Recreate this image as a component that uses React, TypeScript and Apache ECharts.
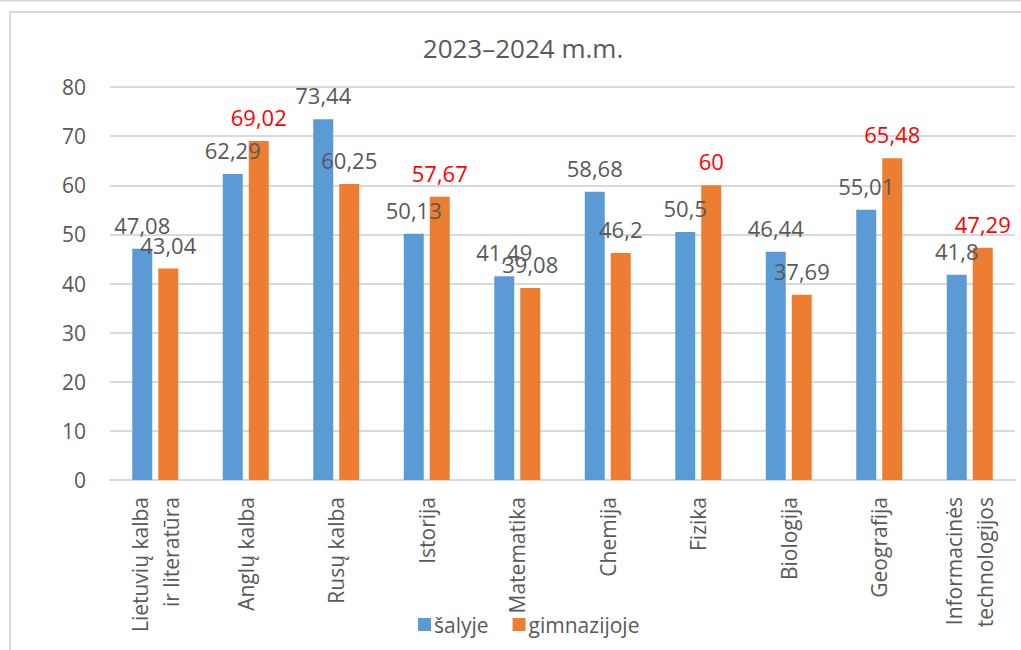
import React, { useEffect, useRef } from "react";
import * as echarts from "echarts";

const titleText = "2023–2024 m.m.";
const categories = [
  "Lietuvių kalba\nir literatūra",
  "Anglų kalba",
  "Rusų kalba",
  "Istorija",
  "Matematika",
  "Chemija",
  "Fizika",
  "Biologija",
  "Geografija",
  "Informacinės\ntechnologijos",
];
const seriesNames = ["šalyje", "gimnazijoje"];
const salyje = [47.08, 62.29, 73.44, 50.13, 41.49, 58.68, 50.5, 46.44, 55.01, 41.8];
const gimnazijoje = [43.04, 69.02, 60.25, 57.67, 39.08, 46.2, 60, 37.69, 65.48, 47.29];
const yMin = 0;
const yMax = 80;
const yInterval = 10;

const FONT = "'Open Sans', 'Noto Sans', sans-serif";
const GRAY = "#595959";

const fmt = (v: number) => String(v).replace(".", ",");

export default function App() {
  const ref = useRef<HTMLDivElement>(null);
  useEffect(() => {
    document.body.style.margin = "0";
    if (!ref.current) return;
    const chart = echarts.init(ref.current, null, { renderer: "svg" });
    const labelBase = {
      show: true,
      position: "top",
      distance: 13,
      fontFamily: FONT,
      fontSize: 22,
      color: GRAY,
      formatter: (p: any) => fmt(p.value),
    };
    chart.setOption({
      animation: false,
      backgroundColor: "#ffffff",
      textStyle: { fontFamily: FONT },
      graphic: [
        {
          type: "line",
          shape: { x1: 0, y1: 0.5, x2: 1021, y2: 0.5 },
          style: { stroke: "#d9d9d9", lineWidth: 2 },
          silent: true,
        },
        {
          type: "rect",
          shape: { x: 10, y: 12, width: 1100, height: 800 },
          style: { fill: "none", stroke: "#d9d9d9", lineWidth: 2 },
          silent: true,
        },
        {
          type: "text",
          x: 523,
          y: 48,
          style: {
            text: titleText,
            fontFamily: FONT,
            fontSize: 26,
            fill: GRAY,
            textAlign: "center",
            textVerticalAlign: "middle",
          },
        },
      ],
      legend: {
        data: seriesNames,
        left: 413,
        top: 609,
        itemWidth: 13,
        itemHeight: 13,
        itemGap: 24,
        icon: "rect",
        textStyle: { fontFamily: FONT, fontSize: 21, color: GRAY, padding: [0, 0, 0, -2] },
      },
      grid: { left: 110, right: 6, top: 87, bottom: 170, containLabel: false },
      xAxis: {
        type: "category",
        data: categories,
        axisLine: { lineStyle: { color: "#d9d9d9", width: 2 } },
        axisTick: { show: false },
        axisLabel: {
          interval: 0,
          rotate: 90,
          margin: 17,
          fontFamily: FONT,
          fontSize: 21,
          lineHeight: 31,
          color: GRAY,
        },
      },
      yAxis: {
        type: "value",
        min: yMin,
        max: yMax,
        interval: yInterval,
        axisLine: { show: false },
        axisTick: { show: false },
        splitLine: { lineStyle: { color: "#d9d9d9", width: 2 } },
        axisLabel: { margin: 24, fontFamily: FONT, fontSize: 21, color: GRAY },
      },
      series: [
        {
          name: seriesNames[0],
          type: "bar",
          data: salyje,
          barWidth: 20,
          barGap: "30%",
          itemStyle: { color: "#5B9BD5" },
          label: labelBase,
        },
        {
          name: seriesNames[1],
          type: "bar",
          data: gimnazijoje.map((v, i) => ({
            value: v,
            label: { color: v > salyje[i] ? "#FF0000" : GRAY },
          })),
          barWidth: 20,
          barGap: "30%",
          itemStyle: { color: "#ED7D31" },
          label: labelBase,
        },
      ],
    });
    return () => chart.dispose();
  }, []);
  return (
    <div
      ref={ref}
      style={{ position: "fixed", left: 0, top: 0, width: 1021, height: 650 }}
    />
  );
}
